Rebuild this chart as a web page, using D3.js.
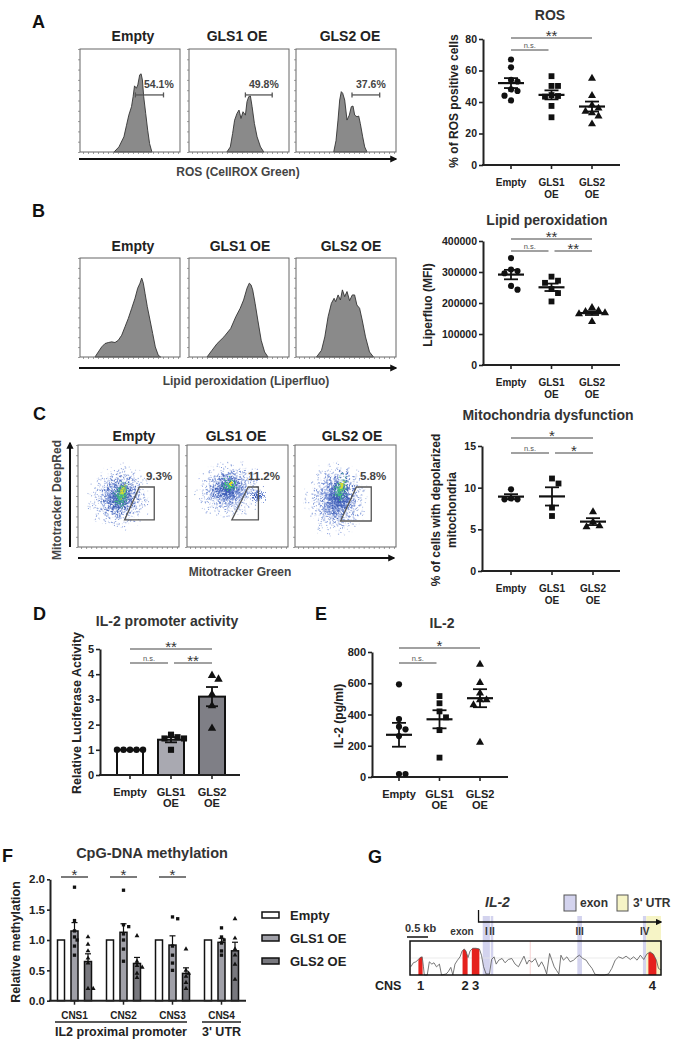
<!DOCTYPE html>
<html>
<head>
<meta charset="utf-8">
<script src="https://cdn.jsdelivr.net/npm/d3@7/dist/d3.min.js"></script>
<style>
html,body{margin:0;padding:0;background:#fff;}
svg{display:block;}
</style>
</head>
<body>
<script>
// ================= DATA =================
const groups = ["Empty", "GLS1 OE", "GLS2 OE"];
const groupLabelLines = [["Empty"], ["GLS1", "OE"], ["GLS2", "OE"]];

// A: ROS histograms  [fluorescence (0-100 of axis), count (% of frame)]
const histRosEmpty = [[34,0],[38.9,4.9],[43.9,14.7],[46.5,26],[48.8,35.8],[51.5,44],[53.1,53.7],[54.5,64.2],[56.4,61.9],[57.8,65.1],[59.7,74.9],[61.1,75.9],[62.4,70],[63.7,53.7],[65.7,37.5],[67.7,21.2],[69.6,8.1],[71.9,0]];
const histRosGLS1 = [[37.9,0],[41.3,4.9],[43.6,17.9],[45.6,30.9],[48,37.5],[50,40.7],[52,32.6],[54,39.1],[56.4,35.8],[58,48.9],[59.7,53.7],[61.4,54.4],[63.1,44],[65.4,27.7],[68.1,14.7],[71.5,4.9],[74.8,0]];
const histRosGLS2 = [[37.7,0],[40,11],[42,31],[43.7,50.5],[45.3,58.6],[46.7,57],[48.7,50.5],[51,31],[53.3,35.8],[55.3,44],[57,44.6],[58.7,35.8],[61,34.2],[62.7,34.9],[64.3,27.7],[66.7,14.7],[68.7,4.9],[71,0]];
const rosGates = [[55.4, 83.5, 55.4], [56.4, 83.2, 55.4], [56, 83.7, 55.4]];
const rosPct = ["54.1%", "49.8%", "37.6%"];

// A: % ROS positive cells
const rosEmpty = [67, 62, 54, 53, 48, 47, 44, 41];
const rosGLS1 = [56.4, 50.2, 50.2, 44.4, 43.8, 43.4, 37.5, 30.3];
const rosGLS2 = [55, 44, 38, 36, 34, 33, 31, 26];
const rosTicks = [0, 20, 40, 60, 80];
const sigRos = [[0, 2, "**", 0], [0, 1, "n.s.", 1]];

// B: Liperfluo histograms
const histLipEmpty = [[15,0],[18.3,5.1],[21.7,10.2],[25,13.6],[28.3,14.6],[31.7,15.3],[35,14.6],[38.3,16.9],[41.7,22],[45,30.5],[48.3,39],[51.7,49.2],[55,59.3],[57.7,69.5],[60,74.6],[61.7,79.7],[63.3,74.6],[65,64.4],[67.3,50.8],[70,37.3],[72.7,23.7],[75.3,10.2],[78.3,1.7],[80.7,0]];
const histLipGLS1 = [[18,0],[23,6.8],[28.1,13.6],[34.9,20.3],[41.7,28.8],[46.8,40.7],[51.2,49.2],[54.6,57.6],[58,69.5],[60.3,74.6],[62,72.9],[63.7,67.8],[66.1,54.2],[68.8,37.3],[72.2,16.9],[75.6,5.1],[79,0]];
const histLipGLS2 = [[20.5,0],[25.5,6.8],[28.8,20.3],[32.1,40.7],[35.4,54.2],[38.1,59.3],[39.7,55.9],[42.1,62.7],[44.4,57.6],[46.4,67.8],[48.7,61],[51,66.1],[53.6,56.9],[56.3,62.7],[58.6,62.7],[60.9,52.5],[63.6,49.2],[66.2,37.3],[69.5,20.3],[73.5,5.1],[77.5,0]];

// B: Liperfluo MFI
const lipEmpty = [345000, 308000, 303000, 296000, 255000, 243000];
const lipGLS1 = [285000, 272000, 265000, 245000, 232000, 205000];
const lipGLS2 = [185000, 175000, 172000, 168000, 165000, 140000];
const lipTicks = [0, 100000, 200000, 300000, 400000];
const sigLip = [[0, 2, "**", 0], [0, 1, "n.s.", 1], [1, 2, "**", 1]];

// C: density clouds [cx, cy, rx, ry, tilt, density level] in axis units (0-100)
const mitoCloudEmpty = [[41,49,34,36,18,0],[42,49,20,26,18,1],[43,51,9,17,15,2],[44,54,4,9,12,3]];
const mitoCloudGLS1 = [[42,56,38,31,-10,0],[70,50,13,9,0,0],[40,58,21,18,-10,1],[70,50,7,5,0,1],[42,61,10,9,0,2],[43,62,4,4,0,3]];
const mitoCloudGLS2 = [[41,47,34,41,8,0],[44,50,19,29,10,1],[45,56,8,18,10,2],[46,60,3.5,8,8,3]];
const mitoGates = [
  [[60.8,58.8],[75.5,58.8],[75.5,26.5],[46.1,26.5]],
  [[60.6,58.8],[70.7,58.8],[70.7,26.5],[44.4,26.5]],
  [[60.8,58.8],[75.5,58.8],[75.5,25.5],[45.1,25.5]]];
const mitoPct = ["9.3%", "11.2%", "5.8%"];

// C: % cells with depolarized mitochondria
const mitoEmpty = [9.8, 8.7, 8.6, 8.6];
const mitoGLS1 = [11.1, 10.5, 7.6, 6.6];
const mitoGLS2 = [7.1, 5.9, 5.4, 5.3];
const mitoTicks = [0, 5, 10, 15];
const sigMito = [[0, 2, "*", 0], [0, 1, "n.s.", 1], [1, 2, "*", 1]];

// D: relative luciferase activity
const lucEmpty = [1, 1, 1, 1, 1];
const lucGLS1 = [1.6, 1.5, 1.45, 1.45, 1.0];
const lucGLS2 = [3.95, 3.8, 3.2, 2.75, 1.85];
const lucTicks = [0, 1, 2, 3, 4, 5];
const sigLuc = [[0, 2, "**", 0], [0, 1, "n.s.", 1], [1, 2, "**", 1]];

// E: IL-2 (pg/ml)
const il2Empty = [593, 371, 322, 305, 262, 19, 19];
const il2GLS1 = [518, 472, 420, 382, 300, 124];
const il2GLS2 = [721, 604, 536, 493, 493, 461, 222];
const il2Ticks = [0, 200, 400, 600, 800];
const sigIl2 = [[0, 2, "*", 0], [0, 1, "n.s.", 1]];

// F: CpG-DNA methylation (per CNS region)
const cnsNames = ["CNS1", "CNS2", "CNS3", "CNS4"];
const methEmpty = [[1,1,1,1,1,1,1],[1,1,1,1,1,1,1],[1,1,1,1,1,1],[1,1,1,1,1,1]];
const methGLS1 = [[1.87,1.32,1.15,1.05,1.0,0.9,0.75],[1.82,1.25,1.22,1.1,1.0,0.85,0.65],[1.38,1.35,0.9,0.75,0.62,0.5],[1.2,1.05,1.0,0.95,0.82,0.75]];
const methGLS2 = [[1.05,0.93,0.82,0.7,0.62,0.2,0.2],[1.07,0.65,0.58,0.55,0.45,0.38],[0.85,0.5,0.45,0.4,0.3,0.2],[1.35,1.03,0.85,0.75,0.6,0.35]];
const methTicks = [0, 0.5, 1.0, 1.5, 2.0];
const sigMeth = [[0, "*"], [1, "*"], [2, "*"]];
const regionGroups = [["IL2 proximal promoter", 0, 2], ["3' UTR", 3, 3]];

// G: VISTA conservation plot [position (kb), conservation (%)]
const vistaCurve = [[0.02,62.1],[0.08,68],[0.14,69.4],[0.20,72.8],[0.24,75.7],[0.29,76.7],[0.32,62],[0.34,50],[0.41,50],[0.46,69.4],[0.52,66],[0.57,68],[0.63,62],[0.70,66],[0.75,50],[0.86,51.5],[0.91,54.9],[0.97,61.2],[1.02,50],[1.07,66],[1.13,71.8],[1.19,76.7],[1.24,85.4],[1.29,88.3],[1.33,85.4],[1.38,75.7],[1.43,85.4],[1.49,89.3],[1.57,89.3],[1.65,88.3],[1.70,79.1],[1.75,62.1],[1.81,51.5],[1.89,51.5],[1.94,72.8],[2.00,76.7],[2.05,66],[2.11,71.8],[2.19,74.3],[2.26,68],[2.34,72.8],[2.42,74.3],[2.50,66],[2.58,62.1],[2.66,71.8],[2.71,77.7],[2.78,66],[2.83,71.8],[2.90,68.9],[2.98,74.3],[3.06,62.1],[3.13,69.4],[3.19,62.1],[3.25,51.5],[3.32,81.6],[3.38,70.9],[3.43,62.1],[3.49,56.3],[3.54,51.5],[3.59,79.1],[3.65,71.8],[3.73,76.7],[3.81,69.4],[3.89,71.8],[3.97,76.7],[4.03,79.1],[4.11,74.3],[4.19,71.8],[4.25,66],[4.33,59.7],[4.40,51],[4.51,50],[4.62,50],[4.72,51.5],[4.80,59.7],[4.88,71.8],[4.96,76.7],[5.06,74.3],[5.14,77.7],[5.24,72.8],[5.32,76.7],[5.40,71.8],[5.48,79.1],[5.56,72.8],[5.63,80.6],[5.71,84],[5.79,80.6],[5.86,71.8],[5.91,59.7],[5.97,57.3]];
const cnsRegions = [[0.20,0.30],[1.25,1.37],[1.47,1.65],[5.67,5.86]];
const cnsLabels = ["1", "2", "3", "4"];
const exonBands = [[1.73,1.90],[1.92,1.98],[3.98,4.09],[5.54,5.62]];
const exonNames = ["I", "II", "III", "IV"];
const utrBand = [5.62, 5.97];
const tssKb = 1.63;

// ================= DRAWING =================
const FONT = '"Liberation Sans", Arial, Helvetica, sans-serif';
const W = 681, H = 1050;
const svg = d3.select("body").append("svg").attr("width", W).attr("height", H)
  .attr("font-family", FONT);
const defs = svg.append("defs");

defs.append("marker").attr("id", "arr").attr("viewBox", "0 0 10 10")
  .attr("refX", 8).attr("refY", 5).attr("markerWidth", 3.6).attr("markerHeight", 3.6)
  .attr("orient", "auto")
  .append("path").attr("d", "M0,0L10,5L0,10z").attr("fill", "#111");
defs.append("marker").attr("id", "arrs").attr("viewBox", "0 0 10 10")
  .attr("refX", 8).attr("refY", 5).attr("markerWidth", 5).attr("markerHeight", 5)
  .attr("orient", "auto")
  .append("path").attr("d", "M0,0L10,5L0,10z").attr("fill", "#111");

// stipple filter: dot density follows the layer's opacity
const sp = defs.append("filter").attr("id", "stip").attr("x", "-10%").attr("y", "-10%")
  .attr("width", "120%").attr("height", "120%").attr("color-interpolation-filters", "sRGB");
sp.append("feTurbulence").attr("type", "fractalNoise").attr("baseFrequency", 1.1)
  .attr("numOctaves", 2).attr("seed", 4).attr("result", "n");
sp.append("feColorMatrix").attr("in", "n").attr("type", "matrix")
  .attr("values", "0 0 0 0 0  0 0 0 0 0  0 0 0 0 0  1 0 0 0 0").attr("result", "nA");
sp.append("feComposite").attr("in", "SourceAlpha").attr("in2", "nA").attr("operator", "arithmetic")
  .attr("k1", 0).attr("k2", 0.45).attr("k3", 1).attr("k4", 0).attr("result", "sum");
const ct = sp.append("feComponentTransfer").attr("in", "sum").attr("result", "mask0");
ct.append("feFuncA").attr("type", "linear").attr("slope", 18).attr("intercept", -13.4);
const ct2 = sp.append("feComponentTransfer").attr("in", "SourceAlpha").attr("result", "inside");
ct2.append("feFuncA").attr("type", "linear").attr("slope", 60).attr("intercept", -1.5);
sp.append("feComposite").attr("in", "mask0").attr("in2", "inside").attr("operator", "in").attr("result", "mask");
sp.append("feColorMatrix").attr("in", "SourceGraphic").attr("type", "matrix")
  .attr("values", "1 0 0 0 0  0 1 0 0 0  0 0 1 0 0  0 0 0 0 1").attr("result", "opaque");
sp.append("feComposite").attr("in", "opaque").attr("in2", "mask").attr("operator", "in");

const levelColors = ["#7d96d8", "#3f5eb6", "#45c27e", "#d8dc30"];
levelColors.forEach((c, i) => {
  const rg = defs.append("radialGradient").attr("id", "lv" + i);
  rg.append("stop").attr("offset", "0%").attr("stop-color", c).attr("stop-opacity", 1);
  rg.append("stop").attr("offset", "100%").attr("stop-color", c).attr("stop-opacity", 0);
});

function txt(g, x, y, s, size, o = {}) {
  return g.append("text").attr("x", x).attr("y", y).text(s)
    .attr("font-size", size).attr("font-weight", o.weight || "bold")
    .attr("fill", o.fill || "#222").attr("text-anchor", o.anchor || "middle")
    .attr("font-style", o.style || "normal");
}
function vtxt(g, x, y, s, size, o = {}) {
  return g.append("text").attr("transform", `translate(${x},${y}) rotate(-90)`).text(s)
    .attr("font-size", size).attr("font-weight", o.weight || "bold")
    .attr("fill", o.fill || "#222").attr("text-anchor", "middle");
}

// panel letters
[["A",32,28],["B",32,217],["C",33,420],["D",33,620],["E",315,620],["F",2,862],["G",368,863]]
  .forEach(([l, x, y]) => txt(svg, x, y, l, 18, { anchor: "start", fill: "#111" }));

// ---------- flow frames ----------
function flowFrame(bx, top, bottom, w) {
  const x = d3.scaleLinear([0, 100], [bx, bx + w]);
  const y = d3.scaleLinear([0, 100], [bottom, top]);
  return { x, y };
}
function frameDecor(g, f, bx, top, bottom, w) {
  g.append("rect").attr("x", bx).attr("y", top).attr("width", w).attr("height", bottom - top)
    .attr("fill", "none").attr("stroke", "#666").attr("stroke-width", 1);
  const la = g.append("g").attr("transform", `translate(${bx},0)`)
    .call(d3.axisLeft(f.y).tickValues(d3.range(0, 101, 10)).tickSize(2).tickFormat(""));
  la.select(".domain").remove();
  la.selectAll(".tick line").attr("stroke", "#777").attr("stroke-width", 0.7);
  const ba = g.append("g").attr("transform", `translate(0,${bottom})`)
    .call(d3.axisBottom(f.x).tickValues(d3.range(3, 100, 5)).tickSize(2).tickFormat(""));
  ba.select(".domain").remove();
  ba.selectAll(".tick line").attr("stroke", "#777").attr("stroke-width", 0.7);
}

function flowRow(cfg, draw) {
  const g = svg.append("g");
  cfg.boxX.forEach((bx, i) => {
    const f = flowFrame(bx, cfg.top, cfg.bottom, cfg.w);
    draw(g, f, i);
    frameDecor(g, f, bx, cfg.top, cfg.bottom, cfg.w);
    txt(g, cfg.titleX[i], cfg.titleY, groups[i], 14, { fill: "#222" });
  });
  g.append("line").attr("x1", cfg.arrowX[0]).attr("x2", cfg.arrowX[1])
    .attr("y1", cfg.arrowY).attr("y2", cfg.arrowY)
    .attr("stroke", "#111").attr("stroke-width", 2).attr("marker-end", "url(#arr)");
  txt(g, cfg.labelX, cfg.labelY, cfg.label, 12, { fill: "#444" });
  return g;
}

const histArea = (f) => d3.area().x(d => f.x(d[0])).y0(f.y(0)).y1(d => f.y(d[1]));
function drawHist(g, f, data) {
  g.append("path").datum(data).attr("d", histArea(f))
    .attr("fill", "#8a8a8a").attr("stroke", "#333").attr("stroke-width", 0.9);
}

// Row A
const rosHists = [histRosEmpty, histRosGLS1, histRosGLS2];
const rosLabelPos = [[64, 62], [60, 62], [60, 62]];
flowRow({ boxX: [80, 189, 296], w: 100, top: 49, bottom: 152, titleX: [133, 237, 350], titleY: 41,
  arrowX: [79, 396], arrowY: 159, label: "ROS (CellROX Green)", labelX: 238, labelY: 176 },
  (g, f, i) => {
    drawHist(g, f, rosHists[i]);
    const gt = rosGates[i];
    const yy = f.y(gt[2]);
    g.append("line").attr("x1", f.x(gt[0])).attr("x2", f.x(gt[1])).attr("y1", yy).attr("y2", yy)
      .attr("stroke", "#555").attr("stroke-width", 1.3);
    [gt[0], gt[1]].forEach(v => g.append("line").attr("x1", f.x(v)).attr("x2", f.x(v))
      .attr("y1", yy - 2.5).attr("y2", yy + 2.5).attr("stroke", "#555").attr("stroke-width", 1.3));
    txt(g, f.x(rosLabelPos[i][0]), f.y(rosLabelPos[i][1]), rosPct[i], 10.5, { anchor: "start", fill: "#444" });
  });

// Row B
const lipHists = [histLipEmpty, histLipGLS1, histLipGLS2];
flowRow({ boxX: [80, 189, 296], w: 100, top: 258, bottom: 357, titleX: [133, 240, 351], titleY: 251,
  arrowX: [79, 396], arrowY: 368, label: "Lipid peroxidation (Liperfluo)", labelX: 246, labelY: 385 },
  (g, f, i) => drawHist(g, f, lipHists[i]));

// Row C
const clouds = [mitoCloudEmpty, mitoCloudGLS1, mitoCloudGLS2];
const mitoLabelPos = [[67.3, 65.7], [60.4, 65.7], [64.4, 65.7]];
flowRow({ boxX: [78, 187, 295], w: 101, top: 445, bottom: 547, titleX: [134, 236, 352], titleY: 441,
  arrowX: [78, 394], arrowY: 558, label: "Mitotracker Green", labelX: 240, labelY: 576 },
  (g, f, i) => {
    const sx = (f.x.range()[1] - f.x.range()[0]) / 100, sy = (f.y.range()[0] - f.y.range()[1]) / 100;
    clouds[i].forEach(c => {
      const cx = f.x(c[0]), cy = f.y(c[1]);
      g.append("ellipse").attr("cx", cx).attr("cy", cy)
        .attr("rx", c[2] * sx).attr("ry", c[3] * sy)
        .attr("transform", `rotate(${c[4]},${cx},${cy})`)
        .attr("fill", `url(#lv${c[5]})`).attr("filter", "url(#stip)");
    });
    g.append("path").datum(mitoGates[i])
      .attr("d", d3.line().x(d => f.x(d[0])).y(d => f.y(d[1])).curve(d3.curveLinearClosed))
      .attr("fill", "none").attr("stroke", "#555").attr("stroke-width", 1.3);
    txt(g, f.x(mitoLabelPos[i][0]), f.y(mitoLabelPos[i][1]), mitoPct[i], 11.5, { anchor: "start", fill: "#444" });
  });
svg.append("line").attr("x1", 70).attr("x2", 70).attr("y1", 547).attr("y2", 443)
  .attr("stroke", "#111").attr("stroke-width", 2).attr("marker-end", "url(#arr)");
vtxt(svg, 61, 500, "Mitotracker DeepRed", 12, { fill: "#444" });

// ---------- dot / bar plots ----------
function swarm(values, yScale, dx, minDist) {
  const order = values.map((v, i) => ({ v, i })).sort((a, b) => b.v - a.v);
  const placed = [], offs = new Array(values.length).fill(0);
  order.forEach(o => {
    const py = yScale(o.v);
    for (let k = 0; k < 30; k++) {
      const cand = k === 0 ? 0 : (k % 2 ? 1 : -1) * Math.ceil(k / 2) * dx;
      if (placed.every(p => Math.hypot(p.x - cand, p.y - py) >= minDist - 1e-6)) {
        offs[o.i] = cand; placed.push({ x: cand, y: py }); break;
      }
    }
  });
  return offs;
}
const symTypes = [d3.symbolCircle, d3.symbolSquare, d3.symbolTriangle];
const symSizes = [30, 34, 28];
const sem = a => d3.deviation(a) / Math.sqrt(a.length);

function styleAxis(ax, size) {
  ax.attr("font-family", FONT).attr("font-size", size).attr("font-weight", "bold");
  ax.select(".domain").attr("stroke", "#222").attr("stroke-width", 2);
  ax.selectAll(".tick line").attr("stroke", "#222").attr("stroke-width", 1.6);
  ax.selectAll(".tick text").attr("fill", "#222");
}

function dotPlot(p) {
  const g = svg.append("g");
  const y = d3.scaleLinear(p.domain, [p.y0, p.y1]);
  const x = d3.scalePoint(groups, p.catRange);
  txt(g, p.titleX, p.titleY, p.title, 14, { fill: "#333" });
  p.ylabel.forEach((l, i) => vtxt(g, p.ylabelX[i], p.ylabelY, l, p.ylabelFont || 12));
  const data = p.data;
  if (p.bars) {
    data.forEach((arr, i) => {
      const m = d3.mean(arr), xc = x(groups[i]);
      g.append("rect").attr("x", xc - p.barW / 2).attr("y", y(m)).attr("width", p.barW)
        .attr("height", y(0) - y(m)).attr("fill", p.bars[i]).attr("stroke", "#111").attr("stroke-width", 2);
    });
  }
  const ya = g.append("g").attr("transform", `translate(${p.ax},0)`)
    .call(d3.axisLeft(y).tickValues(p.ticks).tickFormat(p.fmt || d3.format("d")).tickSize(4).tickSizeOuter(0).tickPadding(2));
  styleAxis(ya, p.tickFont);
  g.append("line").attr("x1", p.ax - 1).attr("x2", p.xEnd).attr("y1", p.y0).attr("y2", p.y0)
    .attr("stroke", "#222").attr("stroke-width", 2);
  groups.forEach((c, i) => {
    const xc = x(c);
    g.append("line").attr("x1", xc).attr("x2", xc).attr("y1", p.y0).attr("y2", p.y0 + 4)
      .attr("stroke", "#222").attr("stroke-width", 1.6);
    groupLabelLines[i].forEach((l, j) => txt(g, xc, p.y0 + p.catDy[j], l, p.catFont));
  });
  data.forEach((arr, i) => {
    const m = d3.mean(arr), s = sem(arr), xc = x(groups[i]);
    g.append("line").attr("x1", xc).attr("x2", xc).attr("y1", y(m - s)).attr("y2", y(m + s))
      .attr("stroke", "#111").attr("stroke-width", 1.8);
    [m - s, m + s].forEach(v => g.append("line").attr("x1", xc - p.capW).attr("x2", xc + p.capW)
      .attr("y1", y(v)).attr("y2", y(v)).attr("stroke", "#111").attr("stroke-width", 1.8));
    if (!p.bars) g.append("line").attr("x1", xc - p.meanW).attr("x2", xc + p.meanW)
      .attr("y1", y(m)).attr("y2", y(m)).attr("stroke", "#111").attr("stroke-width", 2.2);
  });
  data.forEach((arr, i) => {
    const offs = swarm(arr, y, p.dx, p.minDist), xc = x(groups[i]);
    arr.forEach((v, k) => g.append("path")
      .attr("d", d3.symbol(symTypes[i], symSizes[i] * (p.symScale || 1))())
      .attr("transform", `translate(${xc + offs[k]},${y(v)})`).attr("fill", "#111"));
  });
  p.sigs.forEach(([a, b, lab, row]) => {
    const x1 = x(groups[a]) + (a === 1 ? 3 : 0), x2 = x(groups[b]) - (b === 1 ? 3 : 0);
    const yy = p.sigY[row];
    g.append("line").attr("x1", x1).attr("x2", x2).attr("y1", yy).attr("y2", yy)
      .attr("stroke", "#444").attr("stroke-width", 1.2);
    if (lab === "n.s.") txt(g, (x1 + x2) / 2, yy - 2.5, lab, 7.5, { weight: "normal", fill: "#555" });
    else txt(g, (x1 + x2) / 2, yy + 3, lab, 15, { weight: "normal", fill: "#333" });
  });
  return g;
}

const common = { catDy: [21, 33], catFont: 10, tickFont: 10.5, dx: 6.5, minDist: 6.5, capW: 7, meanW: 13 };
dotPlot(Object.assign({}, common, {
  domain: [0, 80], ticks: rosTicks, y0: 165, y1: 39, ax: 483, xEnd: 620, catRange: [511, 592],
  title: "ROS", titleX: 550, titleY: 20, ylabel: ["% of ROS positive cells"], ylabelX: [458], ylabelY: 101,
  sigY: [38, 50], sigs: sigRos, data: [rosEmpty, rosGLS1, rosGLS2] }));
dotPlot(Object.assign({}, common, {
  domain: [0, 400000], ticks: lipTicks, y0: 365, y1: 241, ax: 483, xEnd: 620, catRange: [511, 592],
  title: "Lipid peroxidation", titleX: 547, titleY: 225, ylabel: ["Liperfluo (MFI)"], ylabelX: [432], ylabelY: 305,
  sigY: [239, 251], sigs: sigLip, data: [lipEmpty, lipGLS1, lipGLS2] }));
dotPlot(Object.assign({}, common, {
  domain: [0, 15], ticks: mitoTicks, y0: 571, y1: 446, ax: 482, xEnd: 620, catRange: [511, 593],
  title: "Mitochondria dysfunction", titleX: 548, titleY: 420,
  ylabel: ["% of cells with depolarized", "mitochondria"], ylabelX: [440, 456], ylabelY: 510,
  sigY: [438, 453], sigs: sigMito, data: [mitoEmpty, mitoGLS1, mitoGLS2] }));
dotPlot(Object.assign({}, common, {
  domain: [0, 5], ticks: lucTicks, y0: 775, y1: 649, ax: 100, xEnd: 240, catRange: [130, 212],
  catDy: [21, 32], catFont: 11, tickFont: 11,
  title: "IL-2 promoter activity", titleX: 167, titleY: 626, ylabel: ["Relative Luciferase Activity"],
  ylabelX: [81], ylabelY: 713, ylabelFont: 12.5, sigY: [649, 663], sigs: sigLuc,
  bars: ["#ffffff", "#a9a9b1", "#7f7f86"], barW: 26, capW: 6, symScale: 1.1,
  data: [lucEmpty, lucGLS1, lucGLS2] }));
dotPlot(Object.assign({}, common, {
  domain: [0, 800], ticks: il2Ticks, y0: 777, y1: 652, ax: 372, xEnd: 508, catRange: [399, 480],
  catDy: [21, 32], catFont: 11, tickFont: 11,
  title: "IL-2", titleX: 442, titleY: 628, ylabel: ["IL-2 (pg/ml)"], ylabelX: [343], ylabelY: 716,
  sigY: [648, 663], sigs: sigIl2, data: [il2Empty, il2GLS1, il2GLS2] }));

// ---------- F ----------
(function () {
  const g = svg.append("g");
  const y = d3.scaleLinear([0, 2], [1000.7, 879.3]);
  const xg = d3.scaleBand(cnsNames, [50, 246]);
  const xs = d3.scalePoint(groups, [-13.5, 13.5]);
  const barW = 7;
  const fills = ["#ffffff", "#a0a0a8", "#78787e"];
  const series = [methEmpty, methGLS1, methGLS2];
  txt(g, 152, 858, "CpG-DNA methylation", 14.5, { fill: "#333" });
  vtxt(g, 20, 942, "Relative methylation", 12.5);
  cnsNames.forEach((c, ci) => {
    const gc = xg(c) + xg.bandwidth() / 2;
    series.forEach((s, si) => {
      const arr = s[ci], m = d3.mean(arr), xc = gc + xs(groups[si]);
      g.append("rect").attr("x", xc - barW / 2).attr("y", y(m)).attr("width", barW)
        .attr("height", y(0) - y(m)).attr("fill", fills[si]).attr("stroke", "#111").attr("stroke-width", 1.5);
      if (si > 0) {
        const se = sem(arr);
        g.append("line").attr("x1", xc).attr("x2", xc).attr("y1", y(m)).attr("y2", y(m + se))
          .attr("stroke", "#111").attr("stroke-width", 1.2);
        g.append("line").attr("x1", xc - 3).attr("x2", xc + 3).attr("y1", y(m + se)).attr("y2", y(m + se))
          .attr("stroke", "#111").attr("stroke-width", 1.2);
        const offs = swarm(arr, y, 2.6, 3.2);
        arr.forEach((v, k) => g.append("path").attr("d", d3.symbol(symTypes[si], si === 1 ? 11 : 10)())
          .attr("transform", `translate(${xc + offs[k]},${y(v)})`).attr("fill", "#111"));
      }
    });
    txt(g, gc, 1019, c, 10);
  });
  const ya = g.append("g").attr("transform", "translate(50,0)")
    .call(d3.axisLeft(y).tickValues(methTicks).tickFormat(d3.format(".1f")).tickSize(3).tickSizeOuter(0).tickPadding(2));
  styleAxis(ya, 11.5);
  g.append("line").attr("x1", 49).attr("x2", 246).attr("y1", y(0)).attr("y2", y(0))
    .attr("stroke", "#222").attr("stroke-width", 2);
  cnsNames.forEach(c => {
    const gc = xg(c) + xg.bandwidth() / 2;
    g.append("line").attr("x1", gc).attr("x2", gc).attr("y1", y(0)).attr("y2", y(0) + 4)
      .attr("stroke", "#222").attr("stroke-width", 1.5);
  });
  sigMeth.forEach(([ci, lab]) => {
    const gc = xg(cnsNames[ci]) + xg.bandwidth() / 2;
    const x1 = gc + xs(groups[0]), x2 = gc + xs(groups[2]);
    g.append("line").attr("x1", x1).attr("x2", x2).attr("y1", 877).attr("y2", 877)
      .attr("stroke", "#333").attr("stroke-width", 1.3);
    txt(g, (x1 + x2) / 2, 880, lab, 15, { weight: "normal", fill: "#333" });
  });
  regionGroups.forEach(([lab, a, b], k) => {
    const x1 = xg(cnsNames[a]) + 5, x2 = xg(cnsNames[b]) + xg.bandwidth() - (k === 0 ? 10 : 5);
    g.append("line").attr("x1", x1).attr("x2", x2).attr("y1", 1022).attr("y2", 1022)
      .attr("stroke", "#222").attr("stroke-width", 1.3);
    txt(g, (x1 + x2) / 2, 1036, lab, 12.5);
  });
  groups.forEach((gname, i) => {
    const yy = 915 + i * 23;
    g.append("rect").attr("x", 262).attr("y", yy - 3).attr("width", 17).attr("height", 6)
      .attr("fill", fills[i]).attr("stroke", "#111").attr("stroke-width", 1.5);
    txt(g, 290, yy + 4.5, gname, 13, { anchor: "start" });
  });
})();

// ---------- G ----------
(function () {
  const g = svg.append("g");
  const x = d3.scaleLinear([0, 5.97], [410, 661]);
  const y = d3.scaleLinear([50, 100], [975, 941]);
  exonBands.forEach(b => g.append("rect").attr("x", x(b[0])).attr("y", 916).attr("width", x(b[1]) - x(b[0]))
    .attr("height", 975 - 916).attr("fill", "#d3d3ee"));
  g.append("rect").attr("x", x(utrBand[0])).attr("y", 916).attr("width", x(utrBand[1]) - x(utrBand[0]))
    .attr("height", 975 - 916).attr("fill", "#f6f4c6");
  g.append("line").attr("x1", x(0)).attr("x2", x(5.97)).attr("y1", y(75)).attr("y2", y(75))
    .attr("stroke", "#e6e6e6").attr("stroke-width", 0.8);
  g.append("line").attr("x1", x(2.86)).attr("x2", x(2.86)).attr("y1", y(50)).attr("y2", y(100))
    .attr("stroke", "#f2c4c4").attr("stroke-width", 0.8);
  const cp = defs.append("clipPath").attr("id", "cnsClip");
  cnsRegions.forEach(r => cp.append("rect").attr("x", x(r[0])).attr("y", y(100)).attr("width", x(r[1]) - x(r[0]))
    .attr("height", y(50) - y(100)));
  g.append("path").datum(vistaCurve)
    .attr("d", d3.area().x(d => x(d[0])).y0(y(50)).y1(d => y(d[1])))
    .attr("fill", "#e5211d").attr("clip-path", "url(#cnsClip)");
  g.append("path").datum(vistaCurve)
    .attr("d", d3.line().x(d => x(d[0])).y(d => y(d[1])))
    .attr("fill", "none").attr("stroke", "#555").attr("stroke-width", 0.8);
  g.append("rect").attr("x", x(0)).attr("y", y(100)).attr("width", x(5.97) - x(0)).attr("height", y(50) - y(100))
    .attr("fill", "none").attr("stroke", "#111").attr("stroke-width", 1.5);
  g.append("path").attr("d", `M${x(tssKb)},910V922H${x(5.97)}`).attr("fill", "none")
    .attr("stroke", "#111").attr("stroke-width", 1.3).attr("marker-end", "url(#arrs)");
  txt(g, 485, 907, "IL-2", 14, { anchor: "start", style: "italic", fill: "#333" });
  g.append("rect").attr("x", 564).attr("y", 895).attr("width", 12).attr("height", 16)
    .attr("fill", "#d3d3ee").attr("stroke", "#555").attr("stroke-width", 1);
  txt(g, 580, 907, "exon", 12, { anchor: "start", fill: "#333" });
  g.append("rect").attr("x", 617).attr("y", 895).attr("width", 11).attr("height", 16)
    .attr("fill", "#f6f4c6").attr("stroke", "#555").attr("stroke-width", 1);
  txt(g, 633, 907, "3' UTR", 12, { anchor: "start", fill: "#333" });
  txt(g, 405, 932, "0.5 kb", 11, { anchor: "start", fill: "#333" });
  g.append("line").attr("x1", 407).attr("x2", 407 + x(0.5) - x(0)).attr("y1", 937).attr("y2", 937)
    .attr("stroke", "#111").attr("stroke-width", 1.5);
  txt(g, 462, 935, "exon", 10, { fill: "#333" });
  exonBands.forEach((b, i) => txt(g, x((b[0] + b[1]) / 2), 935, exonNames[i], 10, { fill: "#333" }));
  txt(g, 375, 990, "CNS", 12.5, { anchor: "start" });
  cnsRegions.forEach((r, i) => txt(g, x((r[0] + r[1]) / 2), 990, cnsLabels[i], 13));
})();
</script>
</body>
</html>
